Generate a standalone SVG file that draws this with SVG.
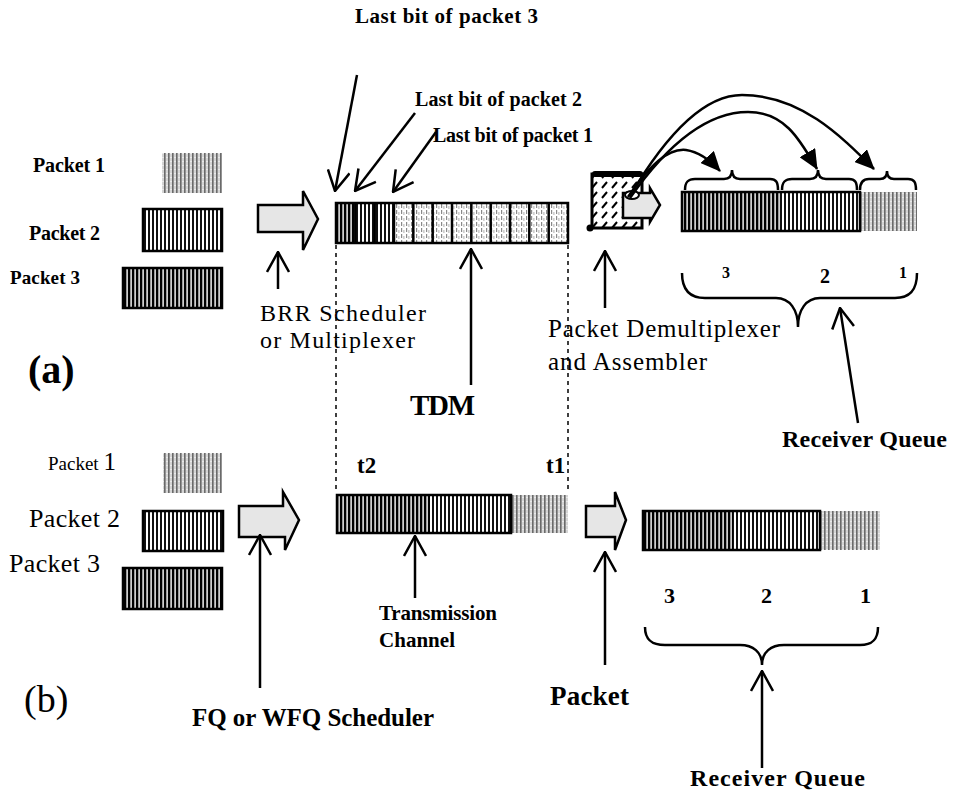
<svg xmlns="http://www.w3.org/2000/svg" width="967" height="791" viewBox="0 0 967 791">
<defs>
<pattern id="pDark" width="4" height="8" patternUnits="userSpaceOnUse"><rect width="4" height="8" fill="#000"/><rect x="2.4" width="1.4" height="8" fill="#fff"/></pattern>
<pattern id="pMed" width="4" height="8" patternUnits="userSpaceOnUse"><rect width="4" height="8" fill="#fff"/><rect x="0" width="2" height="8" fill="#111"/></pattern>
<pattern id="pLight" width="4" height="4" patternUnits="userSpaceOnUse"><rect width="4" height="4" fill="#d4d4d4"/><rect x="0" width="1.6" height="4" fill="#6a6a6a"/><rect x="2.5" y="1" width="1" height="1" fill="#fff"/></pattern>
<pattern id="pSeg" width="5" height="6" patternUnits="userSpaceOnUse"><rect width="5" height="6" fill="#fff"/><rect x="1" width="1.2" height="4" fill="#8a8a8a"/><rect x="3.4" y="2" width="1" height="3" fill="#b0b0b0"/></pattern>
<pattern id="pHatch" width="10" height="10" patternUnits="userSpaceOnUse"><rect width="10" height="10" fill="#fff"/><path d="M2,8 L7,2" stroke="#000" stroke-width="2"/></pattern>
<marker id="v" viewBox="0 0 22 24" markerWidth="22" markerHeight="24" refX="21" refY="12" orient="auto" markerUnits="userSpaceOnUse"><path d="M1,1 L21,12 L1,23" fill="none" stroke="#000" stroke-width="2.5"/></marker>
<marker id="tri" viewBox="0 0 20 18" markerWidth="20" markerHeight="18" refX="19" refY="9" orient="auto" markerUnits="userSpaceOnUse"><path d="M0,0 L20,9 L0,18 Z" fill="#000"/></marker>
<style>
text{font-family:"Liberation Serif","Times New Roman",serif;fill:#000}
.b{font-weight:bold}
.ln{stroke:#000;stroke-width:2.5;fill:none}
.arr{stroke:#000;stroke-width:2.5;fill:none;marker-end:url(#v)}
.cur{stroke:#000;stroke-width:2.5;fill:none;marker-end:url(#tri)}
.dash{stroke:#000;stroke-width:1.5;stroke-dasharray:4 4;fill:none}
.blk{fill:#e6e6e6;stroke:#000;stroke-width:2.5;stroke-linejoin:miter}
.box{stroke:#000;stroke-width:2.5}
</style>
</defs>
<rect width="967" height="791" fill="#fff"/>

<!-- Section (a) -->
<g id="label-a"><text x="28" y="383" class="b" font-size="40">(a)</text></g>
<g id="a-packet1"><text x="33" y="172" class="b" font-size="20" textLength="72">Packet 1</text><rect x="162" y="153" width="60" height="40" fill="url(#pLight)"/></g>
<g id="a-packet2"><text x="29" y="240" class="b" font-size="20" textLength="71">Packet 2</text><rect x="143" y="209" width="79" height="42" fill="url(#pMed)" class="box"/></g>
<g id="a-packet3"><text x="10" y="284" class="b" font-size="19" textLength="70">Packet 3</text><rect x="123" y="268" width="99" height="40" fill="url(#pDark)" class="box"/></g>

<g id="brr-scheduler">
<polygon class="blk" points="258,205 303,205 303,191 318,219 303,250 303,232 258,232"/>
<text x="260" y="321" font-size="24" textLength="166">BRR Scheduler</text>
<text x="260" y="348" font-size="24" textLength="155">or Multiplexer</text>
</g>

<g id="tdm">
<rect x="336" y="203" width="19.3" height="40" fill="url(#pDark)"/>
<rect x="355.3" y="203" width="38.7" height="40" fill="url(#pMed)"/>
<rect x="394" y="203" width="174" height="40" fill="url(#pSeg)"/>
<g class="ln" stroke-width="2">
<line x1="355.3" y1="203" x2="355.3" y2="243"/><line x1="374.7" y1="203" x2="374.7" y2="243"/><line x1="394" y1="203" x2="394" y2="243"/><line x1="413.3" y1="203" x2="413.3" y2="243"/><line x1="432.7" y1="203" x2="432.7" y2="243"/><line x1="452" y1="203" x2="452" y2="243"/><line x1="471.3" y1="203" x2="471.3" y2="243"/><line x1="490.7" y1="203" x2="490.7" y2="243"/><line x1="510" y1="203" x2="510" y2="243"/><line x1="529.3" y1="203" x2="529.3" y2="243"/><line x1="548.7" y1="203" x2="548.7" y2="243"/>
</g>
<rect x="336" y="203" width="232" height="40" fill="none" class="box"/>
<text x="410" y="415" class="b" font-size="29" textLength="65">TDM</text>
</g>

<g id="last-bit-labels">
<text x="355" y="23" class="b" font-size="21" textLength="183">Last bit of packet 3</text>
<text x="415" y="106" class="b" font-size="20" textLength="167">Last bit of packet 2</text>
<text x="433" y="142" class="b" font-size="20" textLength="160">Last bit of packet 1</text>
</g>

<g id="demultiplexer">
<rect x="592" y="174" width="50" height="54" fill="url(#pHatch)" stroke="#000" stroke-width="3"/>
<rect x="592" y="171" width="51" height="6" rx="3" fill="#000"/>
<circle cx="590" cy="228" r="3.5" fill="#000"/>
<polygon class="blk" points="623,193 650,193 650,188 660,205 650,222 650,218 623,218"/>
<ellipse cx="632" cy="195" rx="7" ry="4" fill="#fff" stroke="#000" stroke-width="2"/>
<text x="548" y="337" font-size="25" textLength="232">Packet Demultiplexer</text>
<text x="548" y="370" font-size="25" textLength="159">and Assembler</text>
</g>

<g id="a-receiver-queue">
<rect x="682" y="192" width="98" height="39" fill="url(#pDark)"/>
<rect x="780" y="192" width="80" height="39" fill="url(#pMed)"/>
<rect x="860" y="192" width="57" height="39" fill="url(#pLight)"/>
<rect x="682" y="192" width="178" height="39" fill="none" class="box"/>
<path class="ln" d="M685,190 C685,182 688,179 695,179 L724,179 C729,179 732,176 732,170 C732,176 735,179 740,179 L770,179 C776,179 778,182 778,190"/>
<path class="ln" d="M782,190 C782,182 785,179 792,179 L810,179 C815,179 818,176 818,170 C818,176 821,179 826,179 L849,179 C855,179 857,182 857,190"/>
<path class="ln" d="M860,190 C860,182 863,179 869,179 L880,179 C885,179 887,176 887,171 C887,176 889,179 894,179 L908,179 C914,179 916,182 916,190"/>
<text x="722" y="278" class="b" font-size="16">3</text>
<text x="820" y="283" class="b" font-size="20">2</text>
<text x="899" y="278" class="b" font-size="16">1</text>
<path class="ln" d="M682,273 C682,290 690,298 705,298 L776,298 C790,298 798,310 798,327 C798,310 806,298 820,298 L895,298 C910,298 917,290 917,273"/>
<text x="782" y="447" class="b" font-size="24" textLength="165">Receiver Queue</text>
</g>

<!-- Section (b) -->
<g id="label-b"><text x="24" y="712" font-size="38">(b)</text></g>
<g id="b-packet1"><text x="48" y="470" font-size="19">Packet <tspan font-size="25">1</tspan></text><rect x="163" y="453" width="59" height="40" fill="url(#pLight)"/></g>
<g id="b-packet2"><text x="29" y="527" font-size="26" textLength="91">Packet 2</text><rect x="143" y="511" width="80" height="40" fill="url(#pMed)" class="box"/></g>
<g id="b-packet3"><text x="9" y="572" font-size="26" textLength="91">Packet 3</text><rect x="123" y="568" width="99" height="41" fill="url(#pDark)" class="box"/></g>

<g id="fq-scheduler">
<polygon class="blk" points="239,506 283,506 283,492 299,520 285,550 285,537 239,537"/>
<text x="192" y="726" class="b" font-size="25" textLength="242">FQ or WFQ Scheduler</text>
</g>

<g id="transmission-channel">
<rect x="337" y="495" width="93" height="38" fill="url(#pDark)"/>
<rect x="430" y="495" width="81" height="38" fill="url(#pMed)"/>
<rect x="511" y="495" width="57" height="38" fill="url(#pLight)"/>
<rect x="337" y="495" width="174" height="38" fill="none" class="box"/>
<text x="357" y="473" class="b" font-size="23">t2</text>
<text x="546" y="473" class="b" font-size="23">t1</text>
<text x="379" y="620" class="b" font-size="21" textLength="118">Transmission</text>
<text x="379" y="647" class="b" font-size="21" textLength="76">Channel</text>
</g>

<g id="packet-b">
<polygon class="blk" points="586,506 615,506 615,492 626,520 615,550 615,537 586,537"/>
<text x="550" y="705" class="b" font-size="27" textLength="79">Packet</text>
</g>

<g id="b-receiver-queue">
<rect x="643" y="511" width="90" height="39" fill="url(#pDark)"/>
<rect x="733" y="511" width="87" height="39" fill="url(#pMed)"/>
<rect x="820" y="511" width="60" height="39" fill="url(#pLight)"/>
<rect x="643" y="511" width="177" height="39" fill="none" class="box"/>
<text x="664" y="603" class="b" font-size="22">3</text>
<text x="761" y="603" class="b" font-size="22">2</text>
<text x="860" y="603" class="b" font-size="22">1</text>
<path class="ln" d="M645,627 C645,640 652,645 665,645 L740,645 C753,645 762,652 762,665 C762,652 771,645 784,645 L860,645 C872,645 878,640 878,627"/>
<text x="690" y="786" class="b" font-size="24" textLength="175">Receiver Queue</text>
</g>

<g id="connectors">
<line class="dash" x1="336" y1="245" x2="336" y2="493"/>
<line class="dash" x1="568" y1="245" x2="568" y2="493"/>
<line class="arr" x1="357" y1="75" x2="335" y2="191"/>
<line class="arr" x1="415" y1="113" x2="355" y2="191"/>
<line class="arr" x1="436" y1="132" x2="393" y2="192"/>
<line class="arr" x1="278" y1="289" x2="278" y2="252"/>
<line class="arr" x1="471" y1="385" x2="471" y2="249"/>
<line class="arr" x1="605" y1="308" x2="605" y2="251"/>
<line class="arr" x1="858" y1="423" x2="840" y2="308"/>
<path class="cur" d="M628,197 C650,165 668,148 686,150 C700,152 710,160 720,171"/>
<path class="cur" d="M630,198 C660,155 700,112 748,112 C785,112 800,140 817,169"/>
<path class="cur" d="M630,196 C660,145 700,95 742,95 C800,95 840,135 874,169"/>
<line class="arr" x1="260" y1="688" x2="260" y2="535"/>
<line class="arr" x1="415" y1="598" x2="415" y2="536"/>
<line class="arr" x1="605" y1="665" x2="605" y2="552"/>
<line class="arr" x1="762" y1="768" x2="762" y2="671"/>
</g>
</svg>
